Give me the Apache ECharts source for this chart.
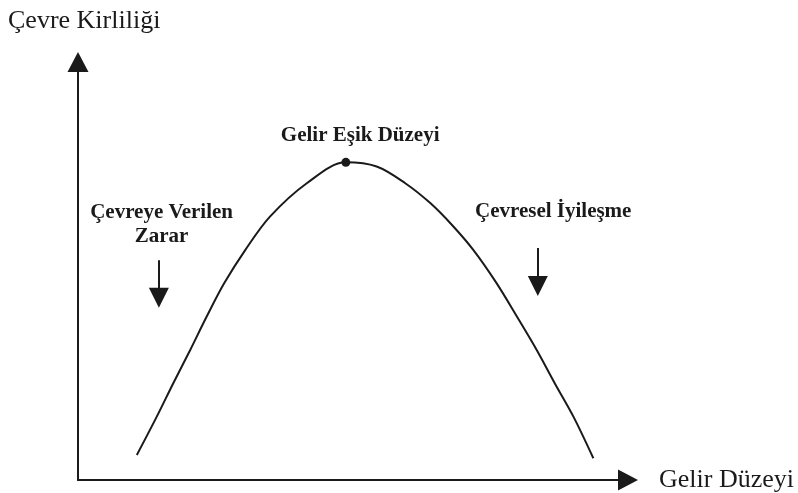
<!DOCTYPE html>
<html>
<head>
<meta charset="utf-8">
<script src="https://cdn.jsdelivr.net/npm/echarts@6/dist/echarts.min.js"></script>
<style>
  html, body { margin: 0; padding: 0; background: #fff; }
  #chart { width: 798px; height: 493px; }
</style>
</head>
<body>
<div id="chart"></div>
<script>
// curve (0-100 on both axes)
const curveX = [10.7, 14.3, 17.3, 20.4, 23.4, 26.6, 30.4, 34.9, 41.6, 48.7,
                54.3, 59.5, 64.0, 68.0, 71.9, 76.1, 79.8, 83.4, 86.7, 90.1, 93.7];
const curveY = [6.0, 15.1, 23.1, 31.1, 39.1, 47.1, 55.0, 63.0, 71.0, 76.0,
                75.0, 71.0, 66.3, 61.0, 55.0, 47.1, 39.1, 31.1, 23.1, 15.1, 5.2];

// peak point
const peak = [48.7, 76.0];

// annotations
const notes = [
  { name: 'Gelir Eşik Düzeyi', value: [51.3, 82.5] },
  { name: 'Çevreye Verilen\nZarar', value: [15.2, 61.0] },
  { name: 'Çevresel İyileşme', value: [86.4, 64.1] }
];

// down arrows [x, yTop, yEnd]
const arrows = [
  [14.7, 52.6, 43.6],
  [83.6, 55.5, 46.4]
];

const yTitle = 'Çevre Kirliliği';
const xTitle = 'Gelir Düzeyi';

const ink = '#1a1a1a';
const serif = '"Liberation Serif", "DejaVu Serif", serif';

const chart = echarts.init(document.getElementById('chart'));

chart.setOption({
  animation: false,
  title: {
    text: yTitle,
    left: 3,
    top: 3,
    textStyle: { fontFamily: serif, fontWeight: 'normal', fontSize: 26, color: ink }
  },
  grid: { left: 78, right: 170, top: 62, bottom: 13 },
  xAxis: {
    type: 'value',
    min: 0,
    max: 100,
    name: xTitle,
    nameLocation: 'end',
    nameGap: 31,
    nameTextStyle: { fontFamily: serif, fontSize: 26, color: ink },
    axisLine: {
      show: true,
      symbol: ['none', 'triangle'],
      symbolSize: [21, 20],
      lineStyle: { color: ink, width: 2 }
    },
    axisTick: { show: false },
    axisLabel: { show: false },
    splitLine: { show: false }
  },
  yAxis: {
    type: 'value',
    min: 0,
    max: 100,
    axisLine: {
      show: true,
      symbol: ['none', 'triangle'],
      symbolSize: [21, 20],
      lineStyle: { color: ink, width: 2 }
    },
    axisTick: { show: false },
    axisLabel: { show: false },
    splitLine: { show: false }
  },
  series: [
    {
      type: 'line',
      data: curveX.map((x, i) => [x, curveY[i]]),
      smooth: 0.33,
      showSymbol: false,
      lineStyle: { color: ink, width: 2 },
      markLine: {
        silent: true,
        symbol: ['none', 'triangle'],
        symbolSize: 20,
        label: { show: false },
        lineStyle: { color: ink, width: 2, type: 'solid' },
        data: arrows.map(a => [{ coord: [a[0], a[1]] }, { coord: [a[0], a[2]] }])
      }
    },
    {
      type: 'scatter',
      data: [peak],
      symbolSize: 9,
      itemStyle: { color: ink, opacity: 1 }
    },
    {
      type: 'scatter',
      data: notes,
      symbolSize: 1,
      itemStyle: { color: 'rgba(0,0,0,0)', opacity: 1 },
      label: {
        show: true,
        position: 'inside',
        formatter: '{b}',
        fontFamily: serif,
        fontWeight: 'bold',
        fontSize: 21,
        lineHeight: 24,
        color: ink
      }
    }
  ]
});
</script>
</body>
</html>
